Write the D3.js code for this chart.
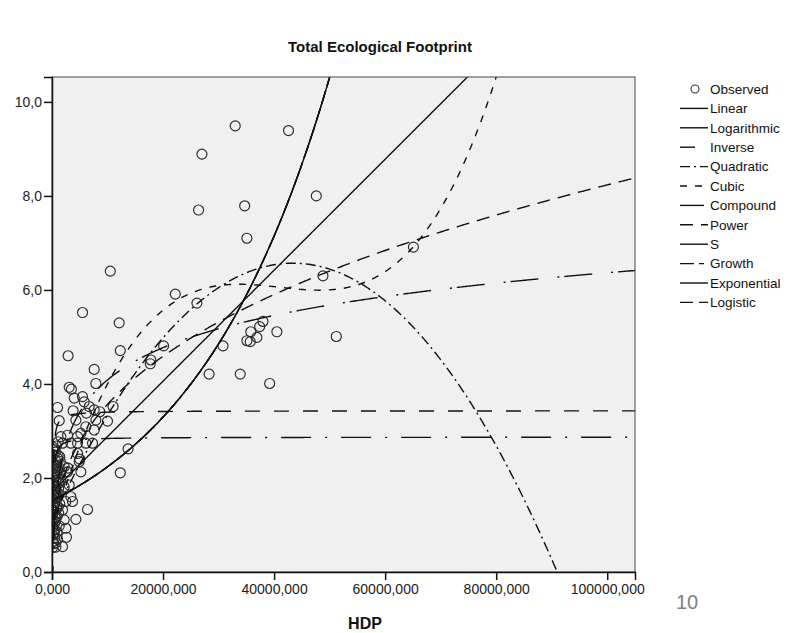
<!DOCTYPE html>
<html>
<head>
<meta charset="utf-8">
<script src="https://cdn.jsdelivr.net/npm/d3@7"></script>
<style>
  body { margin: 0; background: #fff; }
  text { font-family: "Liberation Sans", Arial, sans-serif; }
</style>
</head>
<body>
<svg id="chart" width="788" height="633"></svg>
<script>
// Observed values: HDP against total ecological footprint
const hdp = [
  33000, 42600, 27000, 47600, 34700, 26400, 35100, 10500, 65100, 48800,
  22200, 26100, 5500, 12100, 38000, 37400, 35800, 36900, 35100, 35700,
  40500, 51200, 30800, 20100, 12300, 17800, 17700, 2900, 7600, 28300,
  33900, 39200, 7900, 3100, 3500, 5500, 4000, 1000, 3800, 5800,
  6700, 7600, 11000, 8600, 6200, 1300, 4300, 6100, 7900, 10000,
  7600, 5200, 4600, 2800, 1600, 1900, 3400, 4600, 6100, 7300,
  13700, 4600, 4900, 5200, 1000, 5000, 2200, 2800, 1600, 12300,
  1300, 2200, 3100, 3400, 3700, 2500, 1900, 6400, 4300, 2200,
  2500, 2600, 1900, 700, 1100, 2900,
  100, 200, 150, 300, 100, 400, 200, 600, 100, 300,
  800, 200, 500, 100, 900, 300, 600, 200, 1200, 400,
  100, 700, 300, 1000, 200, 500, 100, 800, 300, 600,
  200, 400, 800, 100, 500, 900, 1200, 1400, 1100, 900,
  1500, 300,
  700, 1000, 400, 1300, 600, 900, 200, 1100, 500, 800,
  300, 1200, 700, 1000, 400, 1400, 600, 200, 900, 1600,
  500, 800, 1300, 1100
];
const footprint = [
  9.49, 9.39, 8.89, 8.00, 7.79, 7.70, 7.10, 6.40, 6.91, 6.30,
  5.91, 5.72, 5.52, 5.30, 5.33, 5.22, 5.11, 4.99, 4.92, 4.90,
  5.11, 5.01, 4.81, 4.81, 4.71, 4.51, 4.43, 4.60, 4.31, 4.21,
  4.21, 4.01, 4.01, 3.93, 3.89, 3.73, 3.70, 3.50, 3.43, 3.62,
  3.52, 3.45, 3.52, 3.41, 3.38, 3.22, 3.23, 3.09, 3.23, 3.21,
  3.02, 2.95, 2.88, 2.91, 2.88, 2.74, 2.74, 2.74, 2.74, 2.74,
  2.62, 2.52, 2.35, 2.13, 2.42, 2.40, 2.24, 2.13, 2.10, 2.11,
  1.89, 1.81, 1.85, 1.60, 1.50, 1.50, 1.32, 1.33, 1.12, 1.11,
  0.93, 0.74, 0.54, 0.53, 2.77, 2.21,
  0.52, 0.65, 0.78, 0.88, 0.95, 1.02, 1.10, 1.15, 1.22, 1.30,
  1.35, 1.42, 1.48, 1.55, 1.58, 1.62, 1.70, 1.75, 1.78, 1.85,
  1.90, 1.95, 2.00, 2.02, 2.08, 2.15, 2.20, 2.25, 2.30, 2.38,
  2.50, 2.60, 2.68, 1.05, 0.72, 0.85, 1.25, 1.45, 1.68, 2.12,
  2.35, 0.60,
  0.62, 0.70, 0.82, 0.98, 1.08, 1.18, 1.28, 1.38, 1.52, 1.63,
  1.72, 1.92, 2.05, 2.18, 2.28, 2.45, 2.55, 2.65, 1.40, 1.95,
  0.90, 1.60, 2.22, 2.48
];

// Fitted model coefficients (b0, b1, ...)
const linearCoef      = [1.70, 1.18e-4];
const logarithmicCoef = [-5.032, 0.99];
const inverseCoef     = [3.43, -300];
const quadraticCoef   = [1.108, 2.517e-4, -2.9e-9];
const cubicCoef       = [0.8842, 4.0558e-4, -1.0234e-8, 8.339e-14];
const compoundCoef    = [1.52, 1.0000387];
const powerCoef       = [0.1255, 0.3634];
const sCoef           = [1.054, -100];
const growthCoef      = [0.4187, 3.87e-5];
const exponentialCoef = [1.52, 3.87e-5];
const logisticCoef    = [0.658, 0.9999613];

const legendNames = ["Observed", "Linear", "Logarithmic", "Inverse", "Quadratic", "Cubic",
                     "Compound", "Power", "S", "Growth", "Exponential", "Logistic"];
const xTicks = [0, 20000, 40000, 60000, 80000, 100000];
const yTicks = [0, 2, 4, 6, 8, 10];

const models = [
  { name: "Linear",      dash: null,           f: x => linearCoef[0] + linearCoef[1] * x },
  { name: "Logarithmic", dash: "28,19,2,5",    f: x => logarithmicCoef[0] + logarithmicCoef[1] * Math.log(x) },
  { name: "Inverse",     dash: "15,14",        f: x => inverseCoef[0] + inverseCoef[1] / x },
  { name: "Quadratic",   dash: "10,4,2,4",     f: x => quadraticCoef[0] + quadraticCoef[1] * x + quadraticCoef[2] * x * x },
  { name: "Cubic",       dash: "7,8",          f: x => cubicCoef[0] + cubicCoef[1] * x + cubicCoef[2] * x * x + cubicCoef[3] * x * x * x },
  { name: "Compound",    dash: "24,4,2,4",     f: x => compoundCoef[0] * Math.pow(compoundCoef[1], x) },
  { name: "Power",       dash: "13,8",         f: x => powerCoef[0] * Math.pow(x, powerCoef[1]) },
  { name: "S",           dash: "30,14,2,14",   f: x => Math.exp(sCoef[0] + sCoef[1] / x) },
  { name: "Growth",      dash: "14,5,5,5",     f: x => Math.exp(growthCoef[0] + growthCoef[1] * x) },
  { name: "Exponential", dash: null,           f: x => exponentialCoef[0] * Math.exp(exponentialCoef[1] * x) },
  { name: "Logistic",    dash: "13,6",         f: x => 1 / (logisticCoef[0] * Math.pow(logisticCoef[1], x)) }
];

const svg = d3.select("#chart");
const plot = { left: 52, right: 635, top: 77, bottom: 572 };

const x = d3.scaleLinear().domain([0, 105000]).range([plot.left, plot.right]);
const y = d3.scaleLinear().domain([0, 10.53]).range([plot.bottom, plot.top]);

svg.append("rect").attr("width", 788).attr("height", 633).attr("fill", "#fff");

// Title
svg.append("text")
  .attr("x", 380).attr("y", 52)
  .attr("text-anchor", "middle")
  .attr("font-size", "15px").attr("font-weight", "bold").attr("fill", "#111")
  .text("Total Ecological Footprint");

// Plot background
svg.append("rect")
  .attr("x", plot.left).attr("y", plot.top)
  .attr("width", plot.right - plot.left).attr("height", plot.bottom - plot.top)
  .attr("fill", "#f0f0f0");

svg.append("clipPath").attr("id", "plotClip")
  .append("rect")
  .attr("x", plot.left).attr("y", plot.top)
  .attr("width", plot.right - plot.left).attr("height", plot.bottom - plot.top);

const inner = svg.append("g").attr("clip-path", "url(#plotClip)");

// Observed points
inner.append("g").selectAll("circle")
  .data(hdp.map((v, i) => [v, footprint[i]]))
  .join("circle")
  .attr("cx", d => x(d[0])).attr("cy", d => y(d[1]))
  .attr("r", 5)
  .attr("fill", "none").attr("stroke", "#2a2a2a").attr("stroke-width", 1.15);

// Fitted curves
const xs = d3.range(100, 2000, 20).concat(d3.range(2000, 105001, 250));
const line = d3.line()
  .defined(d => isFinite(d[1]))
  .x(d => x(d[0]))
  .y(d => y(Math.max(-2, Math.min(14, d[1]))));

inner.append("g").selectAll("path")
  .data(models)
  .join("path")
  .attr("d", m => line(xs.map(v => [v, m.f(v)])))
  .attr("fill", "none").attr("stroke", "#111").attr("stroke-width", 1.4)
  .attr("stroke-dasharray", m => m.dash);

// Frame
svg.append("rect")
  .attr("x", plot.left).attr("y", plot.top)
  .attr("width", plot.right - plot.left).attr("height", plot.bottom - plot.top)
  .attr("fill", "none").attr("stroke", "#444").attr("stroke-width", 1);

// Axes
const fmtX = d => d.toFixed(3).replace(".", ",");
const fmtY = d => d.toFixed(1).replace(".", ",");

const gx = svg.append("g").attr("transform", `translate(0,${plot.bottom})`)
  .call(d3.axisBottom(x).tickValues(xTicks).tickFormat(fmtX).tickSize(8).tickPadding(4));
const gy = svg.append("g").attr("transform", `translate(${plot.left},0)`)
  .call(d3.axisLeft(y).tickValues(yTicks).tickFormat(fmtY).tickSize(8).tickPadding(2));

[gx, gy].forEach(g => {
  g.select(".domain").attr("stroke", "#111").attr("stroke-width", 1.5);
  g.selectAll(".tick line").attr("stroke", "#111").attr("stroke-width", 1.5);
  g.selectAll(".tick text").attr("font-size", "14px").attr("fill", "#222")
    .attr("font-family", "'Liberation Sans', Arial, sans-serif");
});

// Axis title
svg.append("text")
  .attr("x", 365).attr("y", 629)
  .attr("text-anchor", "middle")
  .attr("font-size", "16px").attr("font-weight", "bold").attr("fill", "#111")
  .text("HDP");

// Page number
svg.append("text")
  .attr("x", 687).attr("y", 609)
  .attr("text-anchor", "middle")
  .attr("font-size", "20px").attr("fill", "#808080")
  .text("10");

// Legend
const legend = svg.append("g");
const rowY = i => 89 + i * 19.4;
legendNames.forEach((name, i) => {
  const row = legend.append("g").attr("transform", `translate(0,${rowY(i)})`);
  if (i === 0) {
    row.append("circle").attr("cx", 695).attr("cy", 0).attr("r", 4)
      .attr("fill", "none").attr("stroke", "#333").attr("stroke-width", 1.1);
  } else {
    const m = models[i - 1];
    row.append("line").attr("x1", 680).attr("x2", 708).attr("y1", 0).attr("y2", 0)
      .attr("stroke", "#111").attr("stroke-width", 1.4)
      .attr("stroke-dasharray", m.dash);
  }
  row.append("text").attr("x", 710).attr("y", 0).attr("dy", "0.36em")
    .attr("font-size", "13.5px").attr("fill", "#111")
    .text(name);
});
</script>
</body>
</html>
